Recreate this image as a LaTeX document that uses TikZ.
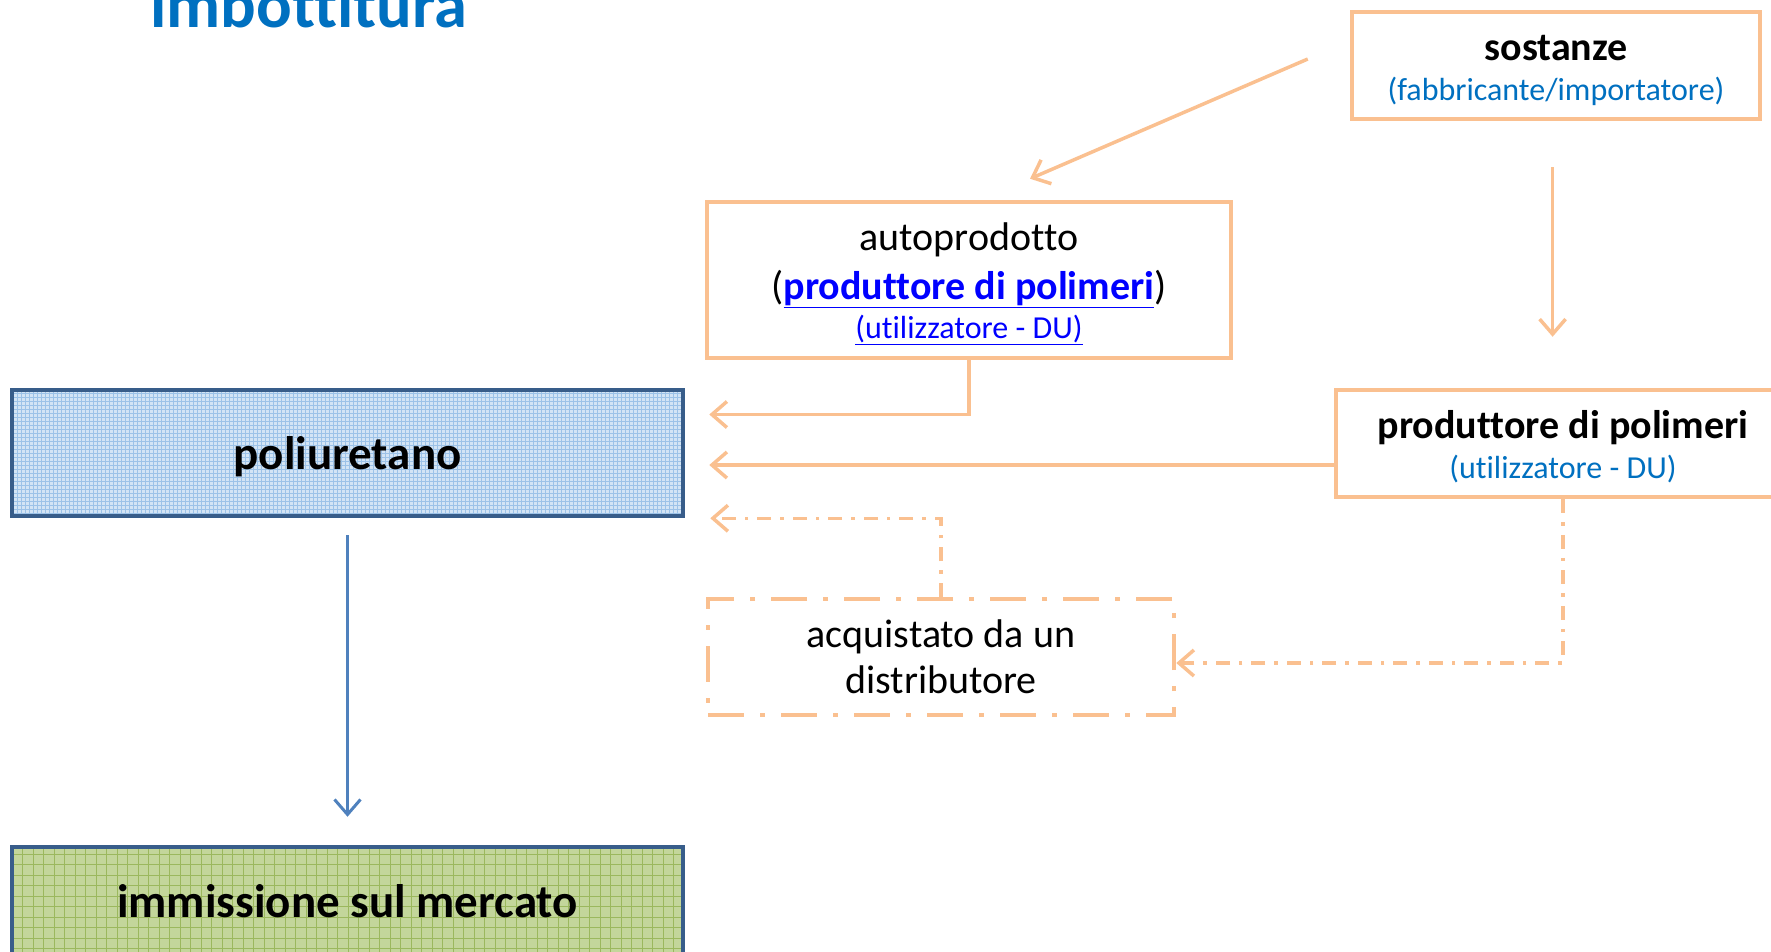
\documentclass[tikz,border=0pt]{standalone}
\usepackage{fontspec}
\setmainfont{Carlito}[Ligatures={TeX,NoCommon}]
\usetikzlibrary{arrows.meta}
\definecolor{peach}{HTML}{FAC090}
\definecolor{titleblue}{HTML}{0070C0}
\definecolor{linkblue}{HTML}{0000FF}
\definecolor{frameblue}{HTML}{385D8A}
\definecolor{arrowblue}{HTML}{4F81BD}
\definecolor{polyfill}{HTML}{D3E4F5}
\definecolor{polygrid}{HTML}{9CC2E8}
\definecolor{marketfill}{HTML}{C3D69B}
\definecolor{marketgrid}{HTML}{9BB85E}
\newcommand{\fsz}[2]{\fontsize{#1}{#2}\selectfont}
\newcommand{\role}[1]{{\fsz{32}{40}\color{titleblue}#1}}
\newcommand{\sink}[2]{\raisebox{-#1}[\height][\depth]{#2}}
\begin{document}
\begin{tikzpicture}[x=1pt,y=-1pt,
    actor/.style={draw=peach,line width=4.5pt,fill=white,align=center,inner sep=0pt,font=\fsz{40}{46}},
    stage/.style={draw=frameblue,line width=4.5pt,inner sep=0pt,minimum width=671pt,font=\fsz{47}{56}\bfseries},
    gridfill/.style 2 args={path picture={\draw[#1,line width=0.7pt] (path picture bounding box.south west) grid[step=#2] (path picture bounding box.north east);}},
    flow/.style={draw=peach,line width=3.5pt,-{Straight Barb[length=15pt,width=26pt,line width=3.5pt]}},
    dashdot/.style={dash pattern=on 14pt off 9pt on 3.5pt off 9pt},
    dashdotbox/.style={dash pattern=on 36pt off 16pt on 5pt off 16pt}]
  \useasboundingbox (0,0) rectangle (1771,951);
  \node[anchor=base west,inner sep=0pt,text=titleblue,font=\fsz{66.5}{80}\bfseries] (title) at (150,27) {imbottitura};
  \node[actor,minimum width=408pt,minimum height=107pt] (sostanze) at (1556,65.5)
    {\sink{5pt}{\textbf{sostanze}}\\[-6pt]\sink{5pt}{\role{(fabbricante/importatore)}}};
  \node[actor,minimum width=524pt,minimum height=156pt] (auto) at (969,280)
    {\sink{4pt}{autoprodotto}\\[2.3pt]
     \sink{4pt}{(\textcolor{linkblue}{\textbf{\underline{produttore di polimeri}}})}\\[-6.4pt]
     \sink{4pt}{\fsz{32}{40}\textcolor{linkblue}{\underline{(utilizzatore - DU)}}}};
  \node[actor,minimum width=454pt,minimum height=107pt] (prod) at (1563,443.5)
    {\sink{3pt}{\textbf{produttore di polimeri}}\\[-6pt]\sink{3pt}{\role{(utilizzatore - DU)}}};
  \node[actor,dashdotbox,minimum width=466pt,minimum height=116pt] (acq) at (941,657)
    {acquistato da un\\distributore};
  \node[stage,fill=polyfill,gridfill={polygrid}{4pt},minimum height=126pt,text depth=0pt] (poli) at (347.5,453) {poliuretano};
  \node[stage,fill=marketfill,gridfill={marketgrid}{10.5pt},minimum height=116pt,text depth=9pt] (market) at (347.5,905) {immissione sul mercato};
  \draw[flow] ([xshift=-42pt,yshift=6.5pt]sostanze.west) -- ([xshift=61pt,yshift=21pt]auto.north);
  \draw[flow,shorten <=46pt,shorten >=51pt] ([xshift=-3.4pt]sostanze.south) -- ([xshift=-3.4pt]sostanze.south |- prod.north);
  \draw[flow] (auto.south) |- ([xshift=24pt,yshift=38.5pt]poli.east);
  \draw[flow] ([yshift=-21.5pt]prod.west) -- ([xshift=24pt,yshift=-12pt]poli.east);
  \draw[flow,dashdot] (acq.north) |- ([xshift=25pt]poli.south east);
  \draw[flow,dashdot] (prod.south) |- ([yshift=-6pt]acq.east);
  \draw[draw=arrowblue,line width=3pt,-{Straight Barb[length=15pt,width=26pt,line width=3pt]}]
    ([yshift=-17pt]poli.south) -- ([yshift=28pt]market.north);
\end{tikzpicture}
\end{document}
